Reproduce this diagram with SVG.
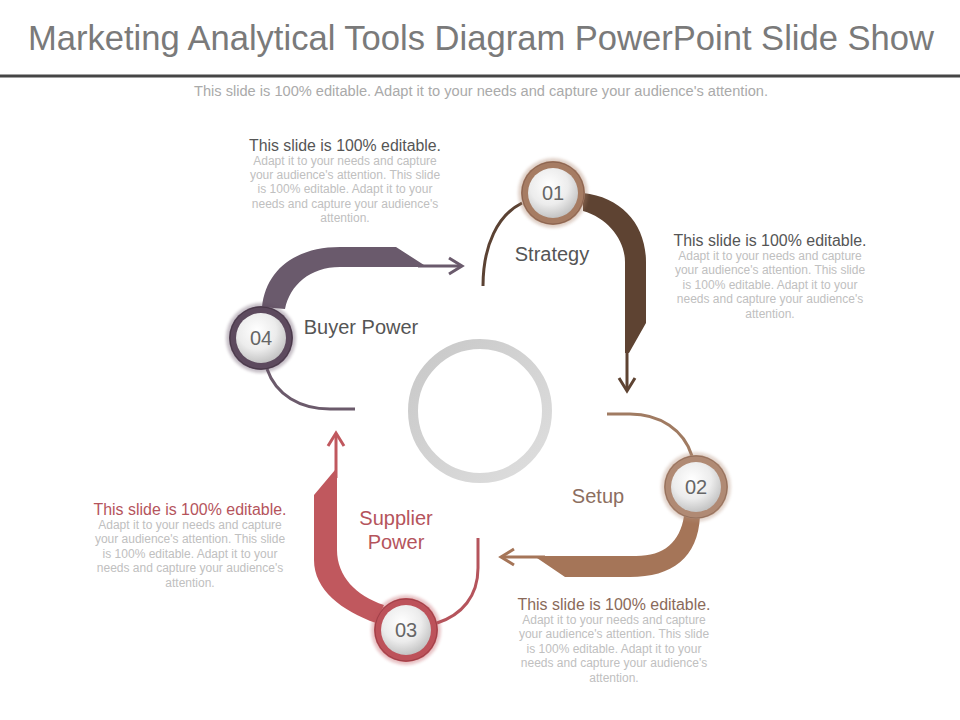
<svg xmlns="http://www.w3.org/2000/svg" width="960" height="720" viewBox="0 0 960 720">
<defs>
<radialGradient id="knob" cx="42%" cy="35%" r="70%">
<stop offset="0" stop-color="#ffffff"/>
<stop offset="0.55" stop-color="#ececec"/>
<stop offset="1" stop-color="#bdbdbd"/>
</radialGradient>
<linearGradient id="ringC" x1="0" y1="0" x2="1" y2="1">
<stop offset="0" stop-color="#c8c8c8"/>
<stop offset="1" stop-color="#dedede"/>
</linearGradient>
<filter id="soft" x="-30%" y="-30%" width="160%" height="160%">
<feGaussianBlur stdDeviation="1.5"/>
</filter>
</defs>
<style>
.title{font-family:"Liberation Sans",Arial,sans-serif;font-size:35px;fill:#7a7a7a;text-anchor:middle}
.sub{font-family:"Liberation Sans",Arial,sans-serif;font-size:14px;fill:#aaaaaa;text-anchor:middle}
.head{font-family:"Liberation Sans",Arial,sans-serif;font-size:16px;text-anchor:middle}
.body{font-family:"Liberation Sans",Arial,sans-serif;font-size:12px;fill:#c0c0c0;text-anchor:middle}
.lbl{font-family:"Liberation Sans",Arial,sans-serif;font-size:20px;text-anchor:middle}
.num{font-family:"Liberation Sans",Arial,sans-serif;font-size:20px;fill:#666666;text-anchor:middle}
.thin{fill:none;stroke-width:3;stroke-linecap:butt}
.shaft{fill:none;stroke-width:3}
.head-ch{fill:none;stroke-width:3;stroke-linejoin:miter}
</style>
<rect width="960" height="720" fill="#ffffff"/>

<text class="title" x="481" y="50" textLength="906" lengthAdjust="spacingAndGlyphs">Marketing Analytical Tools Diagram PowerPoint Slide Show</text>
<rect x="0" y="74.5" width="960" height="3" fill="#454545"/>
<text class="sub" x="481" y="96" textLength="574" lengthAdjust="spacingAndGlyphs">This slide is 100% editable. Adapt it to your needs and capture your audience's attention.</text>

<circle id="center-ring" cx="480" cy="411" r="67" fill="none" stroke="url(#ringC)" stroke-width="10"/>

<g id="connectors">
<!-- 01 -> 02 -->
<path class="thin" stroke="#5b4233" d="M522 203 C498 215 483 245 483 286"/>
<path fill="#5e4332" d="M583 193 C622 197 646 225 646 262 L646 323 L629 353 L625 353 L625 262 C625 240 608 218 583 211 Z"/>
<path class="shaft" stroke="#5e4332" d="M627 345 L627 389"/>
<path class="head-ch" stroke="#5e4332" d="M619 378 L627 391 L635 378"/>
<!-- 02 -> 03 -->
<path class="thin" stroke="#a07b62" d="M607 414 L630 414 C660 414 684 430 692 456"/>
<path fill="#a57558" d="M700 516 C698 558 672 577 630 577 L565 577 L537 558 L537 556 L636 556 C664 556 680 542 684 516 Z"/>
<path class="shaft" stroke="#a57558" d="M545 557 L503 557"/>
<path class="head-ch" stroke="#a57558" d="M514 549 L501 557 L514 565"/>
<!-- 03 -> 04 -->
<path class="thin" stroke="#b5545c" d="M478 538 L478 568 C478 596 462 615 437 623"/>
<path fill="#c0585e" d="M376 623 C342 611 314 590 314 560 L314 495 L335 470 L337 470 L337 550 C337 576 356 596 384 605 Z"/>
<path class="shaft" stroke="#c0585e" d="M336 478 L336 435"/>
<path class="head-ch" stroke="#c0585e" d="M328 446 L336 433 L344 446"/>
<!-- 04 -> 01 -->
<path class="thin" stroke="#6b5a6b" d="M267 369 C276 395 300 409 330 409 L355 409"/>
<path fill="#6a5a6c" d="M262 307 C266 270 295 247 340 247 L396 247 L424 265 L424 267 L340 267 C310 267 290 285 285 309 Z"/>
<path class="shaft" stroke="#6a5a6c" d="M418 266 L460 266"/>
<path class="head-ch" stroke="#6a5a6c" d="M449 258 L462 266 L449 274"/>
</g>

<g id="node-01">
<circle cx="553" cy="193" r="35" fill="#a67c63" opacity="0.35" filter="url(#soft)"/>
<circle cx="553" cy="193" r="32" fill="#a67c63"/>
<circle cx="553" cy="193" r="31" fill="none" stroke="#8a6350" stroke-width="1"/>
<circle cx="553" cy="193" r="25" fill="url(#knob)"/>
<text class="num" x="553" y="200">01</text>
<text class="lbl" x="552" y="261" fill="#555555">Strategy</text>
</g>

<g id="node-02">
<circle cx="696" cy="487" r="35" fill="#b08a74" opacity="0.35" filter="url(#soft)"/>
<circle cx="696" cy="487" r="32" fill="#b08a74"/>
<circle cx="696" cy="487" r="31" fill="none" stroke="#94705c" stroke-width="1"/>
<circle cx="696" cy="487" r="25" fill="url(#knob)"/>
<text class="num" x="696" y="494">02</text>
<text class="lbl" x="598" y="503" fill="#8c6e60">Setup</text>
</g>

<g id="node-03">
<circle cx="406" cy="630" r="35" fill="#bd525a" opacity="0.35" filter="url(#soft)"/>
<circle cx="406" cy="630" r="32" fill="#bd525a"/>
<circle cx="406" cy="630" r="31" fill="none" stroke="#9e3f47" stroke-width="1"/>
<circle cx="406" cy="630" r="25" fill="url(#knob)"/>
<text class="num" x="406" y="637">03</text>
<text class="lbl" x="396" y="525" fill="#b5545c">Supplier</text>
<text class="lbl" x="396" y="549" fill="#b5545c">Power</text>
</g>

<g id="node-04">
<circle cx="261" cy="338" r="35" fill="#5d4a5e" opacity="0.35" filter="url(#soft)"/>
<circle cx="261" cy="338" r="32" fill="#5d4a5e"/>
<circle cx="261" cy="338" r="31" fill="none" stroke="#483848" stroke-width="1"/>
<circle cx="261" cy="338" r="25" fill="url(#knob)"/>
<text class="num" x="261" y="345">04</text>
<text class="lbl" x="361" y="334" fill="#555555">Buyer Power</text>
</g>

<g id="text-top-left">
<text class="head" x="345" y="151" fill="#555555" textLength="192" lengthAdjust="spacingAndGlyphs">This slide is 100% editable.</text>
<text class="body" x="345" y="165">Adapt it to your needs and capture</text>
<text class="body" x="345" y="179">your audience's attention. This slide</text>
<text class="body" x="345" y="193">is 100% editable. Adapt it to your</text>
<text class="body" x="345" y="208">needs and capture your audience's</text>
<text class="body" x="345" y="222">attention.</text>
</g>

<g id="text-right">
<text class="head" x="770" y="246" fill="#555555" textLength="193" lengthAdjust="spacingAndGlyphs">This slide is 100% editable.</text>
<text class="body" x="770" y="260">Adapt it to your needs and capture</text>
<text class="body" x="770" y="274">your audience's attention. This slide</text>
<text class="body" x="770" y="289">is 100% editable. Adapt it to your</text>
<text class="body" x="770" y="303">needs and capture your audience's</text>
<text class="body" x="770" y="318">attention.</text>
</g>

<g id="text-left">
<text class="head" x="190" y="515" fill="#b5545c" textLength="193" lengthAdjust="spacingAndGlyphs">This slide is 100% editable.</text>
<text class="body" x="190" y="529">Adapt it to your needs and capture</text>
<text class="body" x="190" y="543">your audience's attention. This slide</text>
<text class="body" x="190" y="558">is 100% editable. Adapt it to your</text>
<text class="body" x="190" y="572">needs and capture your audience's</text>
<text class="body" x="190" y="587">attention.</text>
</g>

<g id="text-bottom">
<text class="head" x="614" y="610" fill="#8a6a5a" textLength="193" lengthAdjust="spacingAndGlyphs">This slide is 100% editable.</text>
<text class="body" x="614" y="624">Adapt it to your needs and capture</text>
<text class="body" x="614" y="638">your audience's attention. This slide</text>
<text class="body" x="614" y="653">is 100% editable. Adapt it to your</text>
<text class="body" x="614" y="667">needs and capture your audience's</text>
<text class="body" x="614" y="682">attention.</text>
</g>
</svg>
